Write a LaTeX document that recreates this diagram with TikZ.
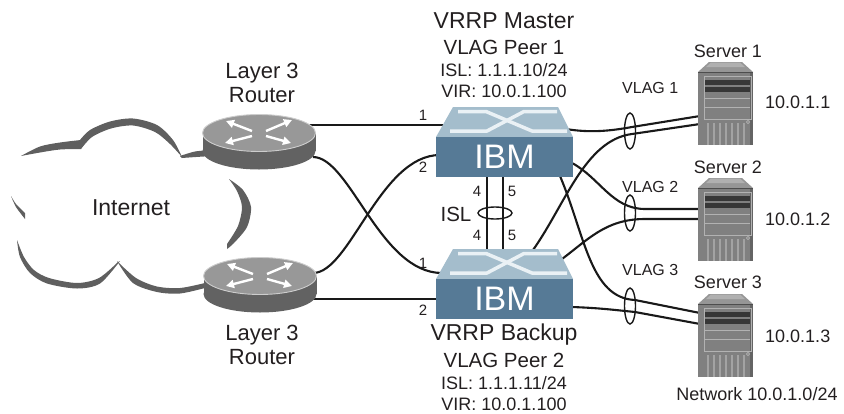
\documentclass[tikz,border=0pt]{standalone}
\usepackage{fontspec}
\setmainfont{Liberation Sans}
\usetikzlibrary{arrows.meta}

\definecolor{swtop}{RGB}{164,189,204}
\definecolor{swfront}{RGB}{86,122,150}
\definecolor{swmark}{RGB}{234,241,245}
\definecolor{rttop}{RGB}{152,152,152}
\definecolor{rtrim}{RGB}{205,205,205}
\definecolor{rtside}{RGB}{98,98,98}
\definecolor{cloudgray}{RGB}{95,95,95}
\definecolor{srvbody}{RGB}{128,128,128}
\definecolor{srvcap}{RGB}{150,150,150}
\definecolor{srvslot}{RGB}{55,55,55}
\definecolor{srvline}{RGB}{178,178,178}
\definecolor{wire}{RGB}{25,25,25}
\definecolor{ink}{RGB}{35,31,32}

\tikzset{
  link/.style={wire, line width=2.1pt},
  ring/.style={wire, line width=1.4pt},
  txt/.style={anchor=base, inner sep=0pt, text=ink},
  t23/.style={txt, font=\fontsize{23}{27}\selectfont},
  t22/.style={txt, font=\fontsize{22}{26}\selectfont},
  t20/.style={txt, font=\fontsize{20.5}{24}\selectfont},
  t18/.style={txt, font=\fontsize{18}{21}\selectfont},
  t16/.style={txt, font=\fontsize{16}{19}\selectfont},
  t15/.style={txt, font=\fontsize{15}{18}\selectfont},
  % cylindrical router, origin at the centre of its top face
  router/.pic={
    \fill[rtside] (0,18) ellipse [x radius=56.5, y radius=18.5];
    \fill[rtside] (-56.5,0) rectangle (56.5,18);
    \fill[rttop, draw=rtrim, line width=0.9pt] (0,0) ellipse [x radius=56.5, y radius=18.5];
    \begin{scope}[white, line width=2.4pt, -{Triangle[length=8pt,width=8pt]}]
      \draw (-7,-2) -- (-33,-12);
      \draw (7,-2) -- (33,-13);
      \draw (-7,3) -- (-34,10);
      \draw (7,3) -- (32,10);
    \end{scope}
  },
  % stackable switch, origin at the top-left corner of its outline
  switch/.pic={
    \fill[swtop] (17,0) -- (122,0) -- (137,30) -- (0,30) -- cycle;
    \fill[swfront] (0,30) rectangle (137,70);
    \draw[swmark, line width=3.5pt, line join=round] (22,4.5) -- (50,4.5) -- (96,24) -- (131,24);
    \draw[swmark, line width=3.5pt, line join=round] (121,4.5) -- (88,4.5) -- (51,24) -- (14,24);
    \node[font=\fontsize{34}{36}\selectfont, text=white, inner sep=0pt] (-ibm) at (68.5,50) {IBM};
  },
  % tower server, origin at the top-left corner of its outline
  server/.pic={
    \fill[srvcap] (11,0) -- (44,0) -- (55,10) -- (0,10) -- cycle;
    \fill[srvcap!75!white] (13,0.5) -- (42,0.5) -- (47,5) -- (8,5) -- cycle;
    \fill[srvbody] (0,10) rectangle (55,83);
    \fill[srvbody!78!black] (52,10) rectangle (55,83);
    \draw[srvbody!60!black, line width=0.8pt] (0,10) -- (55,10);
    \draw[srvline, line width=0.8pt] (6,14) rectangle (53,57);
    \fill[srvslot] (7,18) rectangle (52,23);
    \fill[srvslot] (7,25) rectangle (52,30);
    \draw[srvline, line width=0.8pt] (7,36.5) -- (52,36.5) (7,45) -- (52,45);
    \foreach \gx in {10,16,...,46}
      \draw[srvline!70!srvbody, line width=1.2pt] (\gx,61) -- (\gx,83);
    \draw[srvline, line width=0.6pt] (50,60) circle [radius=1.6];
  }
}

\begin{document}
\begin{tikzpicture}[x=1pt,y=-1pt]
\useasboundingbox (0,0) rectangle (844,413);

% ---------- Internet cloud (white body, grey rim crescents) ----------
\begin{scope}[cloudgray]
  \fill plot[smooth] coordinates {(21,156) (40,146.5) (60,142.5) (81,140)}
     -- plot[smooth] coordinates {(81,149) (60,149.5) (40,152.5) (21,156)} -- cycle;
  \fill plot[smooth] coordinates {(80,140) (90,130) (110,121.5) (133,118.5) (157,125) (173,140) (182,157)}
     -- plot[smooth] coordinates {(182,157) (170,144) (155,132) (133,125.5) (111,128.5) (92,137) (81,149)} -- cycle;
  \fill plot[smooth] coordinates {(180,156) (195,151.5) (212,150)}
     -- plot[smooth] coordinates {(212,156) (196,157) (182,158)} -- cycle;
  \fill plot[smooth] coordinates {(229,179) (243,190) (251,207) (247,227) (234,243) (227,249)}
     -- plot[smooth] coordinates {(227,244) (238,226) (242,207) (237,191) (229,179)} -- cycle;
  \fill plot[smooth] coordinates {(117,261) (133,283) (157,292) (180,293.5) (205,288)}
     -- plot[smooth] coordinates {(205,283) (180,288) (157,286.5) (136,278) (117,261)} -- cycle;
  \fill plot[smooth] coordinates {(17,240) (20,257) (30,273) (47,283.5) (77,288.5) (100,283.5) (120,261)}
     -- plot[smooth] coordinates {(118,262) (99,278) (77,283) (49,278) (34,270) (24,257) (17,240)} -- cycle;
  \fill plot[smooth] coordinates {(11,196) (16,207) (25,219)}
     -- plot[smooth] coordinates {(25,213) (16,204) (11,196)} -- cycle;
\end{scope}
\node[t23] (inet) at (131,215) {Internet};

% ---------- connection end points ----------
\coordinate (r1a) at (300,125);
\coordinate (r1b) at (313,157);
\coordinate (r2a) at (313,273);
\coordinate (r2b) at (300,299);
\coordinate (m1) at (443,125);
\coordinate (m2) at (440,155);
\coordinate (b1) at (442,273);
\coordinate (b2) at (440,299);
\coordinate (m4) at (487,175);
\coordinate (m5) at (503,175);
\coordinate (b4) at (487,252);
\coordinate (b5) at (503,252);
\coordinate (mr1) at (566,129);
\coordinate (mr2) at (572,163);
\coordinate (mr3) at (560,176);
\coordinate (br1) at (533,250);
\coordinate (br2) at (558,262);
\coordinate (br3) at (572,307);
\coordinate (s1a) at (700,116);
\coordinate (s1b) at (700,124);
\coordinate (s2a) at (700,209);
\coordinate (s2b) at (700,219);
\coordinate (s3a) at (700,313);
\coordinate (s3b) at (700,324);

% ---------- links ----------
\draw[link] (r1a) -- (m1);
\draw[link] (r1b) .. controls (350,157) and (380,273) .. (b1);
\draw[link] (r2a) .. controls (350,273) and (380,155) .. (m2);
\draw[link] (r2b) -- (b2);
\draw[link] (m4) -- (b4);
\draw[link] (m5) -- (b5);

\draw[link] (mr1) .. controls (590,133) and (610,131) .. (632,127) -- (s1a);
\draw[link] (br1) .. controls (565,205) and (585,140) .. (632,134) -- (s1b);
\draw[link] (mr2) .. controls (600,178) and (612,209) .. (645,209) -- (s2a);
\draw[link] (br2) .. controls (588,240) and (605,219) .. (645,219) -- (s2b);
\draw[link] (mr3) .. controls (585,235) and (590,298) .. (635,300) -- (s3a);
\draw[link] (br3) .. controls (600,308) and (615,310) .. (635,312) -- (s3b);

% ---------- link aggregation rings ----------
\coordinate (islring) at (495,213);
\coordinate (v1ring) at (630,131);
\coordinate (v2ring) at (630,213);
\coordinate (v3ring) at (630,306);
\draw[ring] (islring) ellipse [x radius=17, y radius=6];
\draw[ring] (v1ring) ellipse [x radius=5.5, y radius=18];
\draw[ring] (v2ring) ellipse [x radius=5.5, y radius=18];
\draw[ring] (v3ring) ellipse [x radius=5.5, y radius=18];

% ---------- devices ----------
\pic (rt1) at (259,133) {router};
\pic (rt2) at (260,276) {router};
\pic (sw1) at (436,107) {switch};
\pic (sw2) at (436,249) {switch};
\pic (sv1) at (698,62) {server};
\pic (sv2) at (698,178) {server};
\pic (sv3) at (698,294) {server};

% ---------- labels ----------
\node[t22] (l3a) at (262,78) {Layer 3};
\node[t22] (rta) at (262,102) {Router};
\node[t22] (l3b) at (262,340) {Layer 3};
\node[t22] (rtb) at (262,364) {Router};

\node[t23] (vm) at (504,28) {VRRP Master};
\node[t20] (vp1) at (504,54) {VLAG Peer 1};
\node[t18] (isl1) at (504,76) {ISL: 1.1.1.10/24};
\node[t18] (vir1) at (504,97) {VIR: 10.0.1.100};

\node[t23] (vb) at (504,340) {VRRP Backup};
\node[t20] (vp2) at (504,367) {VLAG Peer 2};
\node[t18] (isl2) at (504,389) {ISL: 1.1.1.11/24};
\node[t18] (vir2) at (504,410) {VIR: 10.0.1.100};

\node[t15] (p1a) at (423,120) {1};
\node[t15] (p2a) at (423,172) {2};
\node[t15] (p4a) at (477,196) {4};
\node[t15] (p5a) at (512,196) {5};
\node[t15] (p4b) at (477,240) {4};
\node[t15] (p5b) at (512,240) {5};
\node[t15] (p1b) at (423,268) {1};
\node[t15] (p2b) at (423,315) {2};
\node[t20] (isltag) at (456,221) {ISL};

\node[t16, anchor=base west] (vl1) at (622,93) {VLAG 1};
\node[t16, anchor=base west] (vl2) at (622,192) {VLAG 2};
\node[t16, anchor=base west] (vl3) at (622,275) {VLAG 3};

\node[t18] (sn1) at (728,57) {Server 1};
\node[t18] (sn2) at (728,173) {Server 2};
\node[t18] (sn3) at (728,288) {Server 3};
\node[t18, anchor=base west] (ip1) at (765,108) {10.0.1.1};
\node[t18, anchor=base west] (ip2) at (765,225) {10.0.1.2};
\node[t18, anchor=base west] (ip3) at (765,342) {10.0.1.3};
\node[t18] (net) at (757,400) {Network 10.0.1.0/24};
\end{tikzpicture}
\end{document}
